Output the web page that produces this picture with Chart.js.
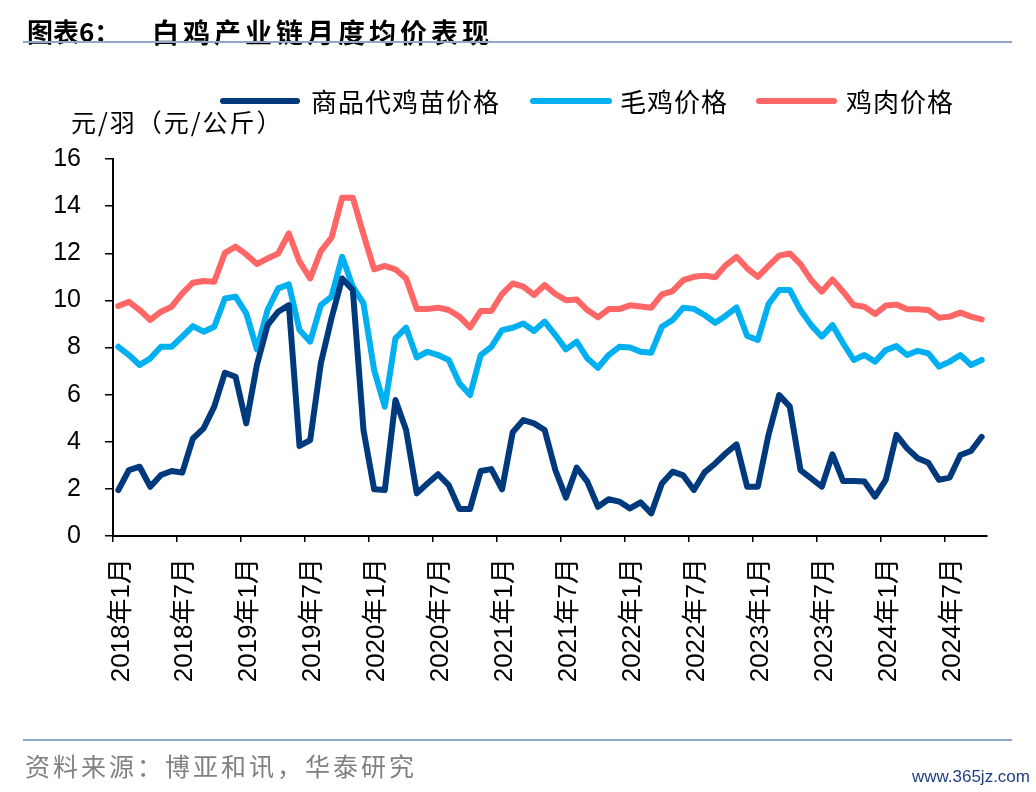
<!DOCTYPE html>
<html>
<head>
<meta charset="utf-8">
<script src="https://cdn.jsdelivr.net/npm/chart.js@4"></script>
<style>
  body { margin: 0; background: #fff; }
  #wrap { position: relative; width: 1036px; height: 792px; overflow: hidden; font-family: "Noto Sans CJK SC", sans-serif; }
  #chart { position: absolute; left: 0; top: 0; }
  .abs { position: absolute; line-height: 1; white-space: nowrap; }
  .rule { position: absolute; left: 23px; width: 989px; height: 2px; background: #8ea6c8; }
  .leg-line { position: absolute; height: 6px; border-radius: 3px; }
  .leg-text { position: absolute; font-size: 26px; letter-spacing: 1px; color: #000; line-height: 1; }
</style>
</head>
<body>
<div id="wrap">
  <canvas id="chart" width="1036" height="792"></canvas>

  <div class="abs" style="left:27px; top:18px; font-size:26px; font-weight:bold;">图表6：</div>
  <div class="abs" style="left:152px; top:18px; font-size:27px; font-weight:bold; letter-spacing:4px;">白鸡产业链月度均价表现</div>
  <div class="rule" style="top:41px;"></div>

  <div class="leg-line" style="left:220px; width:80px; top:98px; background:#003a7d;"></div>
  <div class="leg-text" style="left:311px; top:88px;">商品代鸡苗价格</div>
  <div class="leg-line" style="left:530px; width:82px; top:98px; background:#00b0f0;"></div>
  <div class="leg-text" style="left:620px; top:88px;">毛鸡价格</div>
  <div class="leg-line" style="left:756px; width:81px; top:98px; background:#ff6666;"></div>
  <div class="leg-text" style="left:846px; top:88px;">鸡肉价格</div>

  <div class="abs" style="left:71px; top:109px; font-size:25px; letter-spacing:2px;">元/羽（元/公斤）</div>

  <div class="rule" style="top:739px;"></div>
  <div class="abs" style="left:25px; top:753px; font-size:25px; color:#808080; letter-spacing:3px;">资料来源：博亚和讯，华泰研究</div>
  <div class="abs" style="right:6px; top:768px; font-size:17px; color:#1f3f7f; font-family:'Liberation Sans Narrow','Liberation Sans',sans-serif;">www.365jz.com</div>
</div>

<script>
// 月份类目：2018年1月 至 2024年10月
const months = [];
for (let y = 2018; y <= 2024; y++) {
    for (let m = 1; m <= 12; m++) {
        if (y === 2024 && m > 10) break;
        months.push(y + '年' + m + '月');
    }
}

// 商品代鸡苗价格（元/羽）
const chickPrice = [
    1.95, 2.80, 2.94, 2.09, 2.59, 2.76, 2.69, 4.14, 4.57, 5.49, 6.93, 6.76,
    4.78, 7.26, 8.95, 9.52, 9.80, 3.82, 4.07, 7.33, 9.24, 10.93, 10.44, 4.50,
    1.98, 1.95, 5.77, 4.50, 1.81, 2.23, 2.62, 2.16, 1.15, 1.15, 2.76, 2.84,
    1.98, 4.40, 4.92, 4.78, 4.50, 2.80, 1.63, 2.90, 2.31, 1.24, 1.56, 1.46,
    1.17, 1.43, 0.96, 2.23, 2.73, 2.57, 1.95, 2.70, 3.08, 3.51, 3.89, 2.09,
    2.09, 4.29, 5.98, 5.49, 2.80, 2.45, 2.09, 3.47, 2.33, 2.33, 2.31, 1.67,
    2.38, 4.29, 3.72, 3.30, 3.11, 2.38, 2.48, 3.44, 3.61, 4.21
];

// 毛鸡价格（元/公斤）
const broilerPrice = [
    8.03, 7.68, 7.26, 7.54, 8.03, 8.03, 8.46, 8.91, 8.67, 8.88, 10.08, 10.16,
    9.45, 7.92, 9.59, 10.51, 10.68, 8.74, 8.25, 9.80, 10.16, 11.85, 10.58, 9.87,
    7.04, 5.49, 8.39, 8.84, 7.58, 7.82, 7.68, 7.47, 6.48, 5.98, 7.68, 8.03,
    8.74, 8.84, 9.02, 8.70, 9.10, 8.53, 7.92, 8.25, 7.54, 7.14, 7.68, 8.03,
    8.00, 7.82, 7.78, 8.88, 9.17, 9.69, 9.64, 9.38, 9.05, 9.35, 9.70, 8.49,
    8.32, 9.84, 10.44, 10.44, 9.59, 8.95, 8.46, 8.95, 8.18, 7.47, 7.68, 7.40,
    7.89, 8.06, 7.68, 7.86, 7.75, 7.19, 7.40, 7.68, 7.26, 7.47
];

// 鸡肉价格（元/公斤）
const meatPrice = [
    9.76, 9.94, 9.59, 9.17, 9.52, 9.73, 10.30, 10.75, 10.82, 10.79, 12.02, 12.28,
    11.95, 11.54, 11.78, 11.99, 12.84, 11.64, 10.93, 12.09, 12.66, 14.36, 14.36, 12.80,
    11.32, 11.46, 11.32, 10.93, 9.63, 9.63, 9.69, 9.59, 9.31, 8.85, 9.55, 9.55,
    10.27, 10.72, 10.58, 10.23, 10.65, 10.27, 10.01, 10.04, 9.59, 9.28, 9.63, 9.63,
    9.79, 9.74, 9.69, 10.25, 10.39, 10.86, 11.00, 11.05, 10.98, 11.50, 11.85, 11.36,
    11.00, 11.46, 11.90, 11.99, 11.54, 10.86, 10.37, 10.89, 10.37, 9.80, 9.73, 9.42,
    9.78, 9.82, 9.62, 9.62, 9.59, 9.26, 9.31, 9.48, 9.31, 9.19
];

const yTicks = [0, 2, 4, 6, 8, 10, 12, 14, 16];

const tickFont = { family: "'Liberation Sans', 'Noto Sans CJK SC', sans-serif", size: 25 };
const xFont = { family: "'Liberation Sans', 'Noto Sans CJK SC', sans-serif", size: 26 };

function lineSet(label, data, color) {
    return {
        label: label,
        data: data,
        borderColor: color,
        backgroundColor: color,
        borderWidth: 6,
        pointRadius: 0,
        tension: 0,
        borderJoinStyle: 'round',
        borderCapStyle: 'round',
        fill: false
    };
}

new Chart(document.getElementById('chart'), {
    type: 'line',
    data: {
        labels: months,
        datasets: [
            lineSet('商品代鸡苗价格', chickPrice, '#003a7d'),
            lineSet('毛鸡价格', broilerPrice, '#00b0f0'),
            lineSet('鸡肉价格', meatPrice, '#ff6666')
        ]
    },
    options: {
        responsive: false,
        animation: false,
        devicePixelRatio: 1,
        layout: { padding: { left: 0, right: 49, top: 159, bottom: 96 } },
        plugins: {
            legend: { display: false },
            tooltip: { enabled: false }
        },
        scales: {
            x: {
                offset: true,
                grid: {
                    offset: true,
                    drawOnChartArea: false,
                    drawTicks: true,
                    tickLength: 6,
                    lineWidth: 1.5,
                    color: ctx => (ctx.index % 6 === 0 ? '#000' : 'rgba(0,0,0,0)')
                },
                border: { display: true, color: '#000', width: 2 },
                ticks: {
                    autoSkip: false,
                    minRotation: 90,
                    maxRotation: 90,
                    padding: 16,
                    labelOffset: 3,
                    color: '#000',
                    font: xFont,
                    callback: function (value, index) {
                        return index % 6 === 0 ? this.getLabelForValue(value) : '';
                    }
                },
                afterFit: scale => { scale.height = 160; }
            },
            y: {
                min: 0,
                max: 16,
                afterBuildTicks: scale => { scale.ticks = yTicks.map(v => ({ value: v })); },
                grid: {
                    drawOnChartArea: false,
                    drawTicks: true,
                    tickLength: 8,
                    lineWidth: 1.5,
                    color: '#000'
                },
                border: { display: true, color: '#000', width: 2 },
                ticks: { padding: 24, color: '#000', font: tickFont },
                afterFit: scale => { scale.width = 113; }
            }
        }
    }
});
</script>
</body>
</html>
